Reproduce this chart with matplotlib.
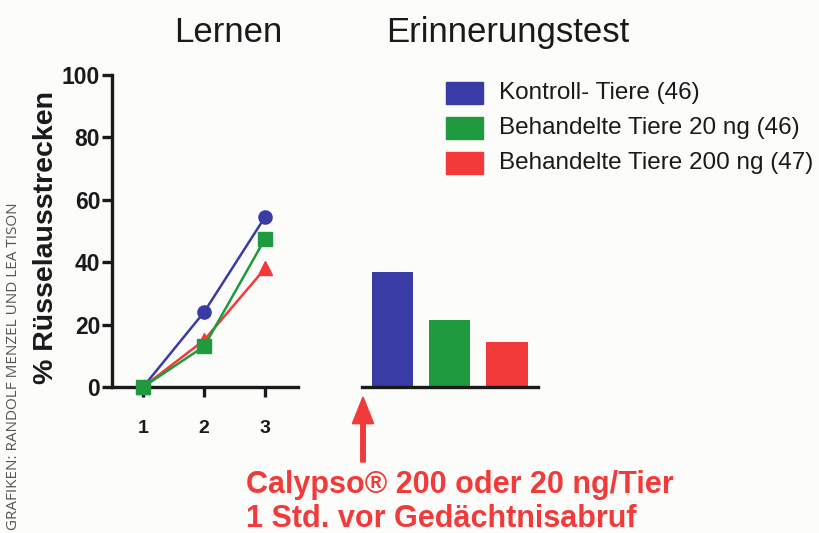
import matplotlib
matplotlib.use("Agg")
import matplotlib.pyplot as plt
from matplotlib.patches import FancyArrow

plt.rcParams['font.family'] = ['Liberation Sans', 'DejaVu Sans']

# Data
trials = [1, 2, 3]
kontroll = [0, 24, 54.5]
behandelt20 = [0, 13, 47.5]
behandelt200 = [0, 15, 38]
test_values = [37, 21.5, 14.5]
legend_labels = ["Kontroll- Tiere (46)", "Behandelte Tiere 20 ng (46)", "Behandelte Tiere 200 ng (47)"]
colors = ["#3a3ca6", "#1f9a3e", "#f23a3a"]
yticks = [0, 20, 40, 60, 80, 100]

W, H = 820, 533
fig = plt.figure(figsize=(8.2, 5.33), dpi=100)
fig.patch.set_facecolor("#fcfcfa")

def fx(px): return px / W
def fy(py): return 1 - py / H

ax1 = fig.add_axes([fx(112), fy(387), fx(298) - fx(112), fy(75) - fy(387)])
ax2 = fig.add_axes([fx(362), fy(387), fx(538) - fx(362), fy(75) - fy(387)])
for ax in (ax1, ax2):
    ax.set_facecolor("none")
    ax.set_ylim(0, 100)
    for s in ("top", "right"):
        ax.spines[s].set_visible(False)
    ax.spines["bottom"].set_linewidth(2.4)
    ax.spines["left"].set_linewidth(2.4)
    ax.spines["bottom"].set_color("#1a1a1a")
    ax.spines["left"].set_color("#1a1a1a")

ax1.plot(trials, kontroll, color=colors[0], lw=1.8, marker='o', ms=9.5, zorder=3, clip_on=False)
ax1.plot(trials, behandelt200, color=colors[2], lw=1.8, marker='^', ms=9.5, zorder=3, clip_on=False)
ax1.plot(trials, behandelt20, color=colors[1], lw=1.8, marker='s', ms=9.5, zorder=4, clip_on=False)
ax1.set_xlim(0.49, 3.54)
ax1.set_xticks(trials)
ax1.set_xticklabels([str(t) for t in trials], fontsize=14, fontweight='bold', color="#1a1a1a")
ax1.set_yticks(yticks)
ax1.set_yticklabels([str(v) for v in yticks], fontsize=16.5, fontweight='bold', color="#1a1a1a")
ax1.tick_params(axis='both', length=7, width=2.4, color="#1a1a1a", pad=1.5)
ax1.tick_params(axis='x', pad=17)

ax2.bar(range(len(test_values)), test_values, width=0.72, color=colors, zorder=2)
ax2.set_xlim(-0.53, 2.54)
ax2.spines["left"].set_visible(False)
ax2.set_xticks([])
ax2.set_yticks([])

fig.text(fx(46), fy(237), "% Rüsselausstrecken", rotation=90, fontsize=20.5, fontweight='bold',
         color="#1a1a1a", ha='center', va='center')

# Titles
fig.text(fx(228), fy(42), "Lernen", fontsize=25, ha='center', va='baseline', color="#1a1a1a")
fig.text(fx(508), fy(42), "Erinnerungstest", fontsize=25, ha='center', va='baseline', color="#1a1a1a")

# Legend
for i, (lab, c) in enumerate(zip(legend_labels, colors)):
    yc = 93 + i * 35
    fig.patches.append(plt.Rectangle((fx(446), fy(yc + 11)), fx(37), fy(yc - 11) - fy(yc + 11),
                                     transform=fig.transFigure, color=c, figure=fig))
    fig.text(fx(499), fy(yc), lab, fontsize=17.5, ha='left', va='center', color="#1a1a1a")

# Arrow
fig.patches.append(FancyArrow(fx(363), fy(462), 0, fy(397) - fy(462), width=0.0055,
                              head_width=0.026, head_length=0.05, length_includes_head=True,
                              color="#f23a3a", transform=fig.transFigure, figure=fig))

fig.text(fx(246), fy(493), "Calypso® 200 oder 20 ng/Tier", fontsize=22, fontweight='bold',
         color="#f23a3a", ha='left', va='baseline')
fig.text(fx(246), fy(527), "1 Std. vor Gedächtnisabruf", fontsize=22, fontweight='bold',
         color="#f23a3a", ha='left', va='baseline')

fig.text(fx(14), fy(366), "GRAFIKEN: RANDOLF MENZEL UND LEA TISON", rotation=90, fontsize=11,
         color="#555555", ha='center', va='center', family=['Open Sans', 'DejaVu Sans'])

fig.savefig("out.png", dpi=100, facecolor=fig.get_facecolor())
